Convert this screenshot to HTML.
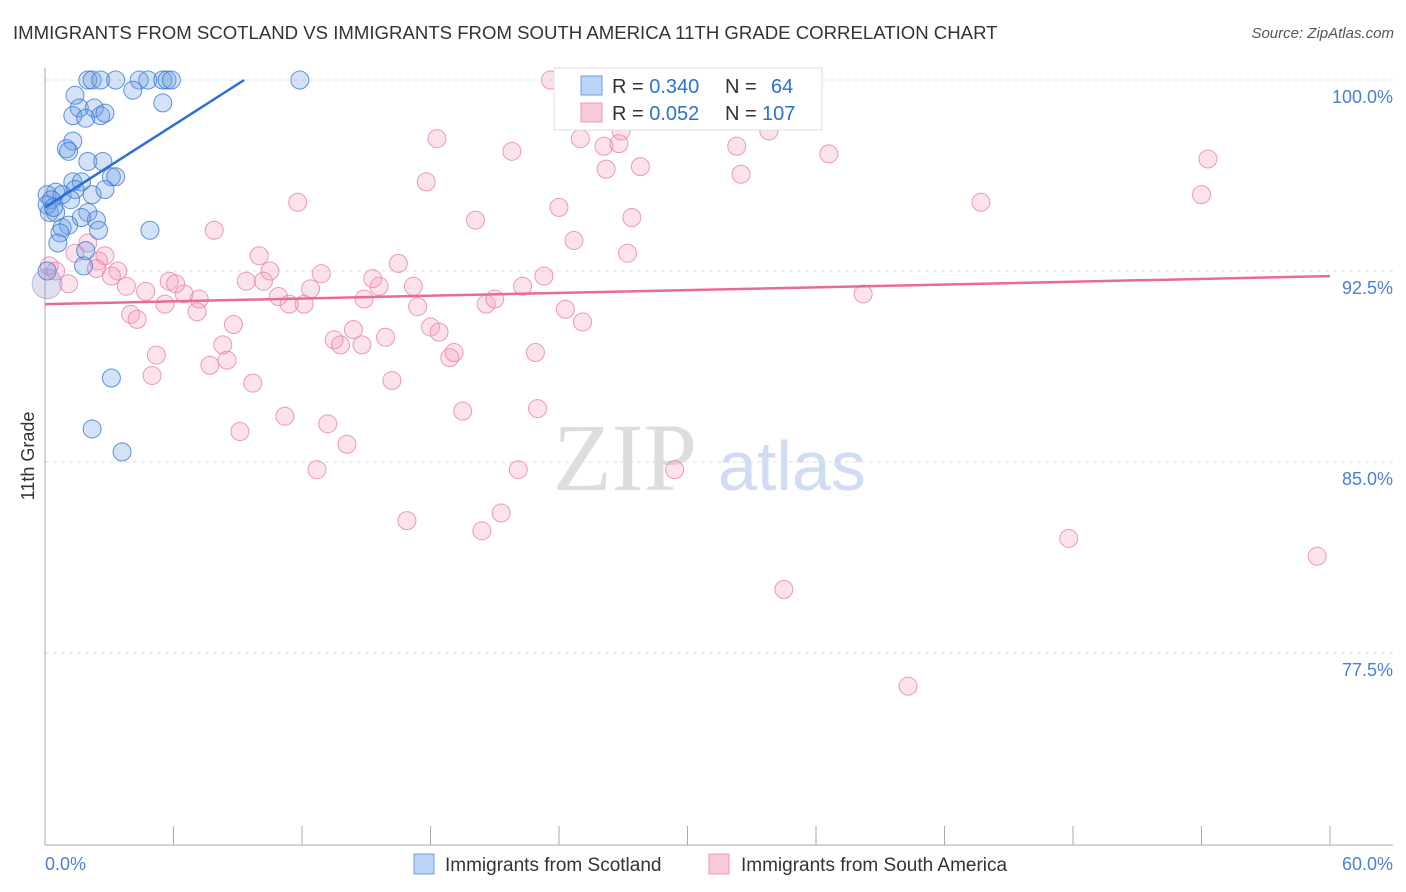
<!DOCTYPE html>
<html><head><meta charset="utf-8">
<style>
body{margin:0;background:#fff;font-family:"Liberation Sans",sans-serif;}
#wrap{position:relative;width:1406px;height:892px;overflow:hidden;}
.title{position:absolute;left:13px;top:22px;font-size:18.6px;color:#333;}
.source{position:absolute;right:12px;top:25px;font-size:15px;color:#555;font-style:italic;}
</style></head><body>
<div id="wrap">
<div class="title">IMMIGRANTS FROM SCOTLAND VS IMMIGRANTS FROM SOUTH AMERICA 11TH GRADE CORRELATION CHART</div>
<div class="source">Source: ZipAtlas.com</div>
<svg id="svg" width="1406" height="892" style="position:absolute;left:0;top:0"></svg>
</div>
<script>
const blueX=[2.0,2.2,2.6,3.3,4.4,4.8,5.5,5.7,5.9,11.9,4.1,1.4,5.5,1.6,2.3,1.3,1.9,2.6,2.8,1.3,1.0,1.1,2.0,2.7,3.1,3.3,1.3,1.7,0.5,0.1,0.8,1.4,2.2,2.8,0.3,1.2,0.2,0.5,2.0,2.4,1.7,0.8,1.1,0.7,2.5,4.9,0.6,1.9,1.8,3.1,2.2,3.6,0.1,0.4,0.1];
const blueY=[100,100,100,100,100,100,100,100,100,100,99.6,99.4,99.1,98.9,98.9,98.6,98.5,98.6,98.7,97.6,97.3,97.2,96.8,96.8,96.2,96.2,96.0,96.0,95.6,95.5,95.5,95.7,95.5,95.7,95.3,95.3,94.8,94.8,94.8,94.5,94.6,94.2,94.3,94.0,94.1,94.1,93.6,93.3,92.7,88.3,86.3,85.4,95.1,95.0,92.5];
const pinkX=[23.6,35.3,33.9,26.8,31.9,28.5,18.3,21.8,25.0,26.1,26.8,26.9,32.3,33.8,36.6,54.3,17.8,26.2,27.8,32.5,11.8,24.0,20.1,27.4,43.7,54.0,7.9,24.7,27.2,10.0,16.5,10.5,12.9,23.3,15.3,0.2,0.5,1.1,1.4,2.0,2.5,2.8,3.4,2.4,3.1,3.8,4.7,5.8,6.1,6.5,7.2,5.6,7.1,9.4,10.2,10.9,11.4,12.1,12.4,15.6,14.9,17.2,17.4,20.6,21.0,22.3,24.3,25.1,4.0,4.3,8.8,18.0,18.4,15.9,14.4,13.5,13.8,14.8,8.3,8.5,7.7,5.2,5.0,9.7,16.2,18.9,19.1,22.9,19.5,23.0,11.2,13.2,9.1,14.1,12.7,22.1,29.4,16.9,21.3,20.4,38.2,47.8,59.4,34.5,40.3];
const pinkY=[100,100,98.7,98.7,98.6,99.1,97.7,97.2,97.7,97.4,97.5,98.0,97.4,98.0,97.1,96.9,96.0,96.5,96.6,96.3,95.2,95.0,94.5,94.6,95.2,95.5,94.1,93.7,93.2,93.1,92.8,92.5,92.4,92.3,92.2,92.7,92.5,92.0,93.2,93.6,92.9,93.1,92.5,92.6,92.3,91.9,91.7,92.1,92.0,91.6,91.4,91.2,90.9,92.1,92.1,91.5,91.2,91.2,91.8,91.9,91.4,91.9,91.1,91.2,91.4,91.9,91.0,90.5,90.8,90.6,90.4,90.3,90.1,89.9,90.2,89.8,89.6,89.6,89.6,89.0,88.8,89.2,88.4,88.1,88.2,89.1,89.3,89.3,87.0,87.1,86.8,86.5,86.2,85.7,84.7,84.7,84.7,82.7,83.0,82.3,91.6,82.0,81.3,80.0,76.2];
const yTicks=[100,92.5,85,77.5];
const yTickLabels=["100.0%","92.5%","85.0%","77.5%"];
const blueTrend=[[0,95.0],[9.3,100]];
const pinkTrend=[[0,91.2],[60,92.3]];
const X=v=>45+v/60*1285;
const Y=v=>80+(100-v)*25.47;
const svg=document.getElementById('svg');
const NS='http://www.w3.org/2000/svg';
function mk(tag,attrs,parent){const e=document.createElementNS(NS,tag);for(const k in attrs)e.setAttribute(k,attrs[k]);(parent||svg).appendChild(e);return e;}
yTicks.forEach((t,i)=>{
 const g=mk('line',{x1:45,x2:1393,y1:Y(t),y2:Y(t),stroke:'#ddd','stroke-dasharray':'4,4'});
 
 
 const tx=mk('text',{x:1393,y:Y(t)+23,'text-anchor':'end','font-size':18,fill:'#4a7fd4'});
 tx.textContent=yTickLabels[i];
 
 
});
let a=mk('line',{x1:45,x2:45,y1:68,y2:845,stroke:'#aaa'});

a=mk('line',{x1:45,x2:1393,y1:845,y2:845,stroke:'#aaa'});

for(let i=0;i<=10;i++){const t=mk('line',{x1:X(i*6),x2:X(i*6),y1:826,y2:845,stroke:'#aaa'});
 }
let t=mk('text',{x:45,y:870,'font-size':18,fill:'#4a7fd4'});t.textContent='0.0%';

t=mk('text',{x:1393,y:870,'font-size':18,fill:'#4a7fd4','text-anchor':'end'});t.textContent='60.0%';

t=mk('text',{x:34,y:456,'font-size':18,fill:'#333','text-anchor':'middle',transform:'rotate(-90 34 456)'});t.textContent='11th Grade';

t=mk('text',{x:553,y:490,'font-size':96,fill:'#ddd','font-family':'Liberation Serif,serif'});t.textContent='ZIP';

t=mk('text',{x:718,y:490,'font-size':70,fill:'#cfdcf2'});t.textContent='atlas';

pinkX.forEach((x,i)=>{const c=mk('circle',{cx:X(x),cy:Y(pinkY[i]),r:9,fill:'rgba(244,160,190,0.3)',stroke:'rgba(232,130,165,0.8)','stroke-width':1});
 });
blueX.forEach((x,i)=>{const c=mk('circle',{cx:X(x),cy:Y(blueY[i]),r:9,fill:'rgba(110,160,230,0.3)',stroke:'rgba(60,120,210,0.8)','stroke-width':1});
 });
let big=mk('circle',{cx:X(0.1),cy:Y(92.0),r:15,fill:'rgba(150,150,210,0.3)',stroke:'rgba(150,150,210,0.6)'});

let l=mk('line',{x1:X(pinkTrend[0][0]),y1:Y(pinkTrend[0][1]),x2:X(pinkTrend[1][0]),y2:Y(pinkTrend[1][1]),stroke:'#e86a98','stroke-width':2.5});

l=mk('line',{x1:X(blueTrend[0][0]),y1:Y(blueTrend[0][1]),x2:X(blueTrend[1][0]),y2:Y(blueTrend[1][1]),stroke:'#2c6fd6','stroke-width':2.5});

let lg=mk('g',{});
mk('rect',{x:554,y:68,width:268,height:62,fill:'#fff',stroke:'#ddd'},lg);
mk('rect',{x:581,y:76,width:21,height:19,fill:'#bcd4f6',stroke:'#6b9be0'},lg);
mk('rect',{x:581,y:103,width:21,height:19,fill:'#f9c9d8',stroke:'#eb9ab6'},lg);
const rows=[['0.340','64',93],['0.052','107',120]];
rows.forEach(r=>{
 let a=mk('text',{x:612,y:r[2],'font-size':20,fill:'#333'},lg);a.innerHTML='R = <tspan fill="#2c6fd6">'+r[0]+'</tspan>';
 
 let b=mk('text',{x:725,y:r[2],'font-size':20,fill:'#333'},lg);b.innerHTML='N = <tspan fill="#2c6fd6" x="'+(r[1].length==2?771:762)+'">'+r[1]+'</tspan>';
 
});
let bl=mk('g',{});
mk('rect',{x:414,y:854,width:20,height:20,fill:'#bcd4f6',stroke:'#6b9be0'},bl);
t=mk('text',{x:445,y:871,'font-size':19,fill:'#333'},bl);t.textContent='Immigrants from Scotland';

mk('rect',{x:709,y:854,width:20,height:20,fill:'#f9c9d8',stroke:'#eb9ab6'},bl);
t=mk('text',{x:741,y:871,'font-size':19,fill:'#333'},bl);t.textContent='Immigrants from South America';

</script>
</body></html>
